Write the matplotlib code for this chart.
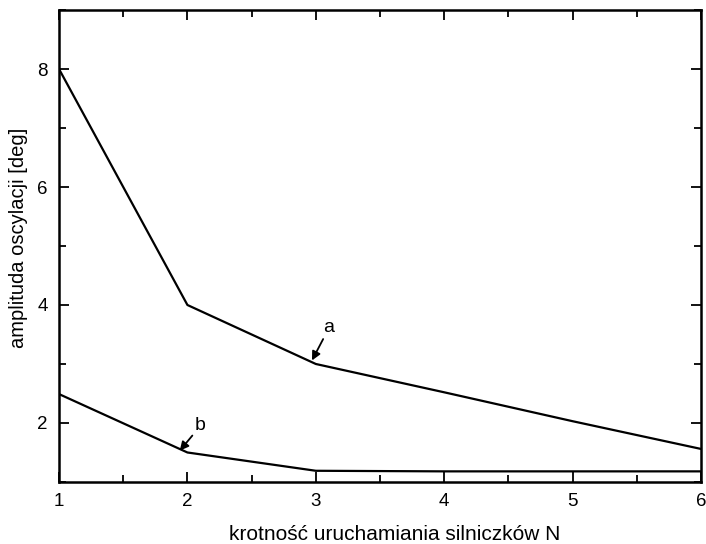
import matplotlib.pyplot as plt
from matplotlib.ticker import MultipleLocator

# data
N = [1, 2, 3, 4, 5, 6]
amp_a = [8.0, 4.0, 3.0, 2.52, 2.03, 1.56]
amp_b = [2.49, 1.5, 1.19, 1.18, 1.18, 1.18]

plt.rcParams['font.family'] = ['Liberation Sans', 'DejaVu Sans']

fig = plt.figure(figsize=(7.06, 5.44), dpi=100)
ax = fig.add_axes([0.0836, 0.114, 0.9094, 0.8676])

ax.plot(N, amp_a, color='black', lw=1.6)
ax.plot(N, amp_b, color='black', lw=1.6)

# curve labels with arrows
arrow = dict(arrowstyle='-|>', color='black', lw=1.3, mutation_scale=13,
             shrinkA=0, shrinkB=0)
ax.annotate('a', xy=(2.97, 3.06), xytext=(3.06, 3.47), arrowprops=arrow,
            fontsize=14, ha='left', va='bottom')
ax.annotate('b', xy=(1.94, 1.53), xytext=(2.06, 1.81), arrowprops=arrow,
            fontsize=14, ha='left', va='bottom')

ax.set_xlim(1, 6)
ax.set_ylim(1, 9)
ax.xaxis.set_major_locator(MultipleLocator(1))
ax.xaxis.set_minor_locator(MultipleLocator(0.5))
ax.yaxis.set_minor_locator(MultipleLocator(1))
ax.set_yticks([2, 4, 6, 8])
ax.tick_params(which='both', direction='in', top=True, right=True, width=1.3)
ax.tick_params(which='major', length=7, labelsize=13.5, pad=8)
ax.tick_params(which='minor', length=5)
for s in ax.spines.values():
    s.set_linewidth(1.8)

ax.set_xlabel('krotność uruchamiania silniczków N', fontsize=15)
ax.set_ylabel('amplituda oscylacji [deg]', fontsize=14.5)
ax.xaxis.set_label_coords(0.523, -0.092)
ax.yaxis.set_label_coords(-0.048, 0.517)

fig.savefig('out.png', dpi=100)
